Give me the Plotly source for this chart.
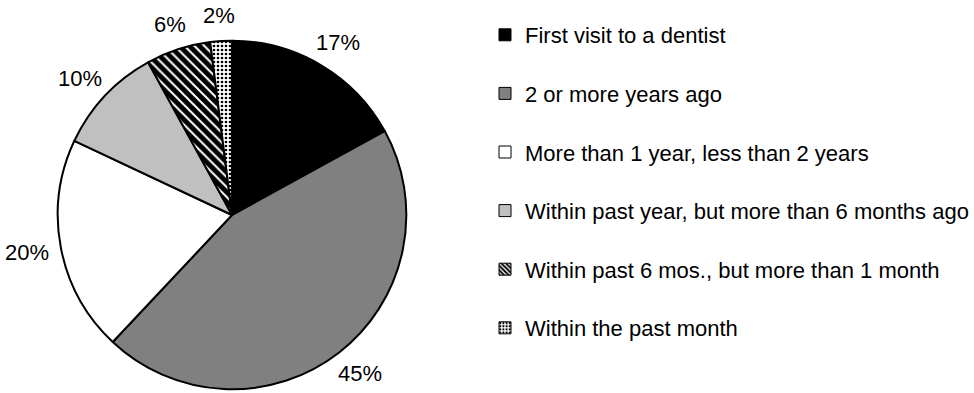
import math
import plotly.graph_objects as go

categories = [
    "First visit to a dentist",
    "2 or more years ago",
    "More than 1 year, less than 2 years",
    "Within past year, but more than 6 months ago",
    "Within past 6 mos., but more than 1 month",
    "Within the past month",
]
values = [17, 45, 20, 10, 6, 2]
percent_labels = ["17%", "45%", "20%", "10%", "6%", "2%"]

fill_colors = ["#000000", "#808080", "#ffffff", "#c0c0c0", "#000000", "#ffffff"]
patterns = [
    dict(shape=""),
    dict(shape=""),
    dict(shape=""),
    dict(shape=""),
    dict(shape="\\", fgcolor="#ffffff", bgcolor="#000000", size=7, solidity=0.28),
    dict(shape=".", fgcolor="#000000", bgcolor="#ffffff", size=4, solidity=0.35),
]

W, H = 974, 393
FONT = "Liberation Sans, Arial, sans-serif"
FS = 22

# pie geometry in pixels
cx, cy, R = 233, 215, 175
dom_x = [(cx - R) / W, (cx + R) / W]
dom_y = [1 - (cy + R) / H, 1 - (cy - R) / H]

fig = go.Figure()
fig.add_trace(go.Pie(
    labels=categories,
    values=values,
    sort=False,
    direction="clockwise",
    rotation=0,
    textinfo="none",
    hoverinfo="label+percent",
    showlegend=False,
    marker=dict(colors=fill_colors, pattern=dict(
        shape=[p.get("shape", "") for p in patterns],
        fgcolor=[p.get("fgcolor", "#000000") for p in patterns],
        bgcolor=[p.get("bgcolor", c) for p, c in zip(patterns, fill_colors)],
        size=[p.get("size", 8) for p in patterns],
        solidity=[p.get("solidity", 0.3) for p in patterns],
        fillmode="replace",
    ), line=dict(color="#000000", width=2)),
    domain=dict(x=dom_x, y=dom_y),
))

# legend entries (dummy bars outside the visible axis range, each in its own group for spacing)
for i, (name, col, pat) in enumerate(zip(categories, fill_colors, patterns)):
    mp = dict(shape=pat.get("shape", ""))
    if pat.get("shape"):
        mp.update(fgcolor=pat["fgcolor"], bgcolor=pat["bgcolor"], size=4, solidity=0.4, fillmode="replace")
    fig.add_trace(go.Bar(
        x=[0], y=[0], name=name, legendgroup=f"g{i}", showlegend=True,
        marker=dict(color=col, pattern=mp, line=dict(color="#000000", width=1)),
        hoverinfo="skip",
    ))

# percent labels placed just outside the pie from the cumulative values
total = sum(values)
annotations = []
cum = 0
gap = 14
for v, txt in zip(values, percent_labels):
    mid = (cum + v / 2) / total * 2 * math.pi
    cum += v
    s, c = math.sin(mid), math.cos(mid)
    tw, th = len(txt) * 0.62 * FS, FS
    px = cx + (R + gap) * s + tw / 2 * s
    py = cy - (R + gap) * c - th / 2 * c
    annotations.append(dict(
        x=px / W, y=1 - py / H, xref="paper", yref="paper",
        text=txt, showarrow=False, xanchor="center", yanchor="middle",
        font=dict(family=FONT, size=FS, color="#000000"),
    ))

fig.update_layout(
    width=W, height=H,
    margin=dict(l=0, r=0, t=0, b=0),
    paper_bgcolor="#ffffff", plot_bgcolor="rgba(0,0,0,0)",
    font=dict(family=FONT, size=FS, color="#000000"),
    xaxis=dict(visible=False, domain=[0.99, 1.0], range=[10, 11]),
    yaxis=dict(visible=False, domain=[0.0, 0.01], range=[10, 11]),
    showlegend=True,
    legend=dict(
        x=487 / W, y=1 - 14 / H, xanchor="left", yanchor="top",
        traceorder="grouped", tracegroupgap=27,
        font=dict(family=FONT, size=FS, color="#000000"),
        bgcolor="rgba(0,0,0,0)", borderwidth=0,
    ),
    annotations=annotations,
)

fig.write_html("out.html")
